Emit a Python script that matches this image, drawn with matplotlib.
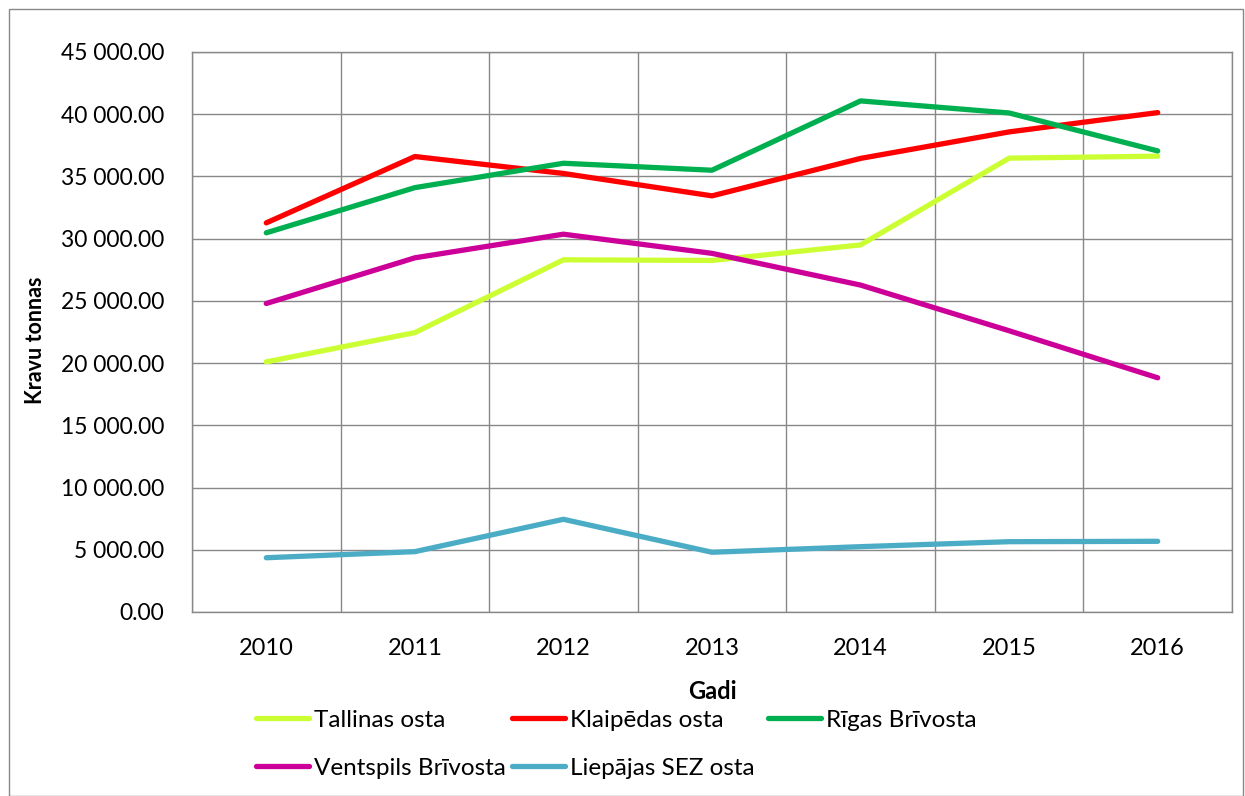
import numpy as np
import matplotlib
matplotlib.use("Agg")
import matplotlib.pyplot as plt
from matplotlib.patches import Rectangle
from matplotlib.ticker import FuncFormatter

plt.rcParams['font.family'] = ['Lato', 'DejaVu Sans']

# data (thousand tonnes)
years = ["2010", "2011", "2012", "2013", "2014", "2015", "2016"]
tallinas = [20100, 22450, 28300, 28250, 29500, 36470, 36630]
klaipedas = [31270, 36600, 35240, 33440, 36450, 38580, 40130]
rigas = [30470, 34100, 36060, 35500, 41070, 40100, 37050]
ventspils = [24790, 28460, 30360, 28820, 26270, 22600, 18820]
liepajas = [4360, 4850, 7450, 4800, 5250, 5650, 5680]

names = ["Tallinas osta", "Klaipēdas osta", "Rīgas Brīvosta",
         "Ventspils Brīvosta", "Liepājas SEZ osta"]
series = [tallinas, klaipedas, rigas, ventspils, liepajas]
colors = ["#CCFF33", "#FF0000", "#00B050", "#CC0099", "#4BACC6"]

W, H = 1245, 796
fig = plt.figure(figsize=(W / 100, H / 100), dpi=100)
ax = fig.add_axes([192 / W, 1 - 612 / H, 1040 / W, 560 / H])

x = np.arange(len(years))
lines = []
for vals, name, c in zip(series, names, colors):
    ln, = ax.plot(x, vals, color=c, lw=3.8, solid_capstyle="round",
                  solid_joinstyle="round", label=name, zorder=3)
    lines.append(ln)

grid_c = "#888888"
ax.set_xlim(-0.5, len(years) - 0.5)
ax.set_ylim(0, 45000)
ax.set_yticks(np.arange(0, 45001, 5000))
ax.yaxis.set_major_formatter(FuncFormatter(lambda v, p: f"{v:,.2f}".replace(",", " ")))
ax.set_xticks(x)
ax.set_xticklabels(years)
ax.set_xticks(np.arange(-0.5, len(years)), minor=True)
ax.grid(axis="y", which="major", color=grid_c, lw=1.0)
ax.grid(axis="x", which="minor", color=grid_c, lw=1.0)
ax.tick_params(axis="both", which="both", length=0)
ax.tick_params(axis="y", labelsize=16.5, pad=20)
ax.tick_params(axis="x", labelsize=17, pad=19)
for s in ax.spines.values():
    s.set_color(grid_c)
    s.set_linewidth(1.0)

ax.set_ylabel("Kravu tonnas", fontsize=15.5, fontweight="bold")
ax.yaxis.set_label_coords(-0.140, 0.485)
ax.set_xlabel("Gadi", fontsize=17, fontweight="bold")
ax.xaxis.set_label_coords(0.5, -0.122)

# legend laid out like Excel: fixed column slots
slots = [(256, 720), (512, 720), (768, 720), (256, 768), (512, 768)]
for ln, (px, py) in zip(lines, slots):
    fig.legend(handles=[ln], loc="center left", bbox_to_anchor=(px / W, 1 - py / H),
               frameon=False, borderpad=0, borderaxespad=0, handlelength=2.2,
               handletextpad=0.2, fontsize=17.5)

# outer chart border
fig.patches.append(Rectangle((9 / W, 0), (1243 - 9) / W, 1 - 9 / H,
                             transform=fig.transFigure, fill=False,
                             edgecolor=grid_c, lw=1.0))

fig.savefig("out.png", dpi=100)
